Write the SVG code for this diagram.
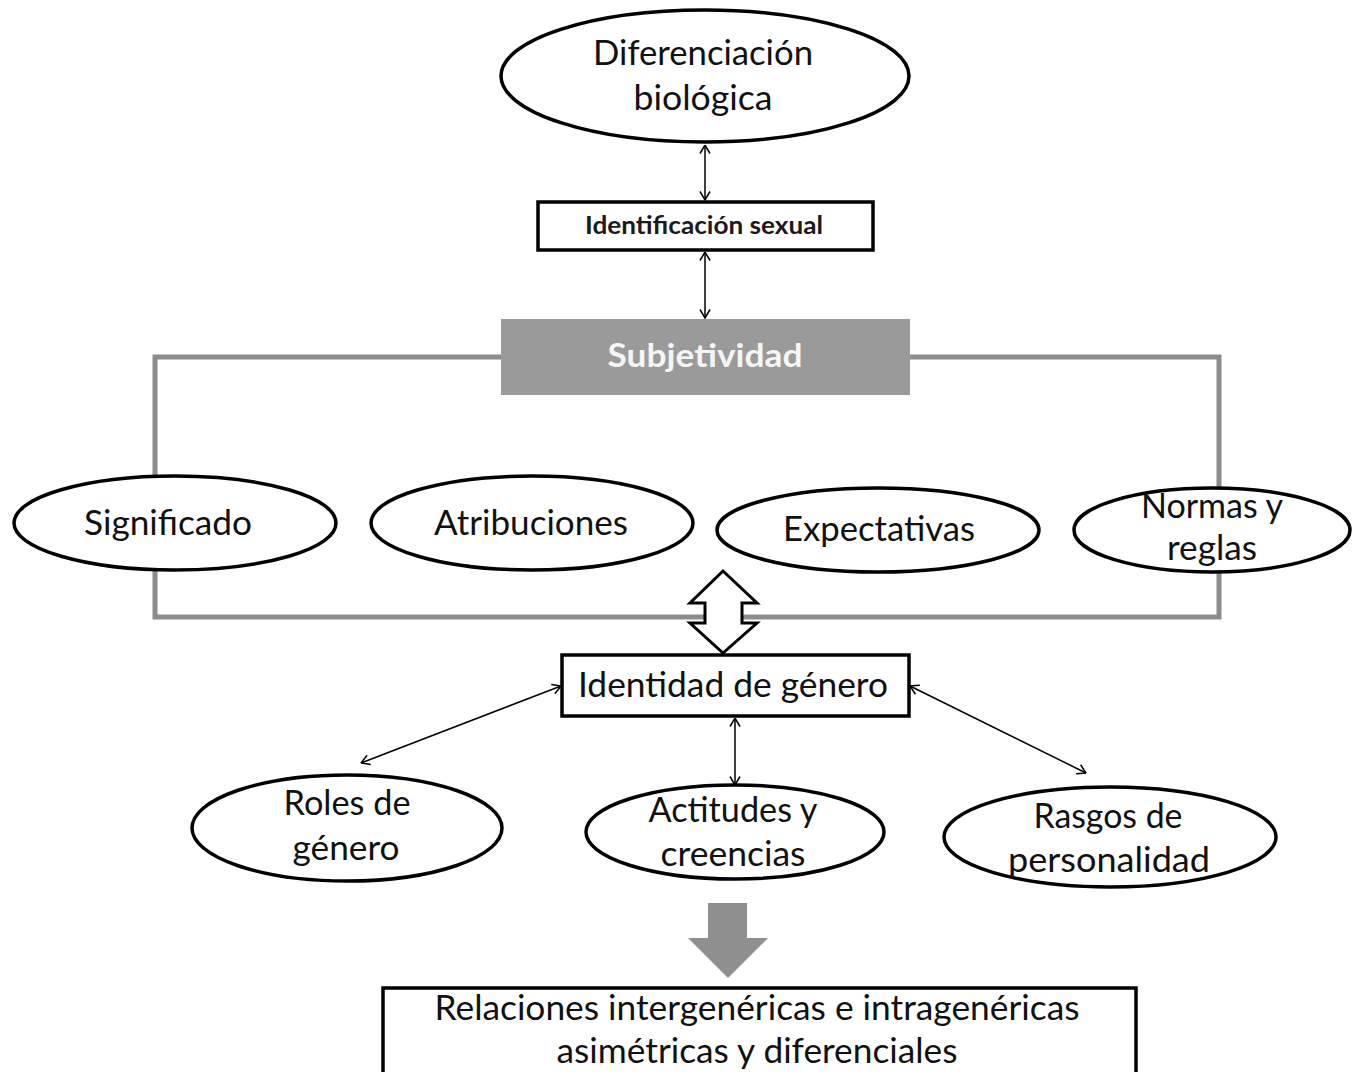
<svg xmlns="http://www.w3.org/2000/svg" width="1355" height="1072" viewBox="0 0 1355 1072">
<defs>
<style>
.node{fill:#fff;stroke:#000;stroke-width:3.5}
.box{fill:#fff;stroke:#000;stroke-width:3.5}
.t{font-family:Lato,"Open Sans","Liberation Sans",sans-serif;font-size:34px;fill:#111;text-anchor:middle}
.conn{stroke:#000;stroke-width:1.5;fill:none;marker-start:url(#ah);marker-end:url(#ah)}
.frame{fill:none;stroke:#8c8c8c;stroke-width:5}
</style>
<marker id="ah" viewBox="0 0 10 12" refX="9.5" refY="6" markerWidth="10" markerHeight="12" markerUnits="userSpaceOnUse" orient="auto-start-reverse">
<path d="M1,1 L9.5,6 L1,11" fill="none" stroke="#000" stroke-width="1.5"/>
</marker>
</defs>
<rect width="1355" height="1072" fill="#fff"/>

<g id="frame">
<polyline class="frame" points="501,357 155,357 155,617 1219,617 1219,357 910,357"/>
</g>

<g id="connectors">
<line class="conn" x1="705" y1="145" x2="705" y2="200"/>
<line class="conn" x1="705" y1="252" x2="705" y2="318"/>
<line class="conn" x1="561" y1="686" x2="361" y2="763"/>
<line class="conn" x1="735" y1="718" x2="735" y2="785"/>
<line class="conn" x1="910" y1="686" x2="1086" y2="773"/>
<polygon id="double-arrow" points="723,571 757,603 742,603 742,623 757,623 723,653 690,623 705,623 705,603 690,603" fill="#fff" stroke="#000" stroke-width="3" stroke-linejoin="miter"/>
<polygon id="down-arrow" points="708,903 747,903 747,938 768,938 728,978 688,938 708,938" fill="#8f8f8f"/>
</g>

<g id="diferenciacion">
<ellipse class="node" cx="705" cy="76" rx="204" ry="66"/>
<text class="t" x="703" y="65" textLength="220" lengthAdjust="spacingAndGlyphs">Diferenciación</text>
<text class="t" x="703" y="110" textLength="139" lengthAdjust="spacingAndGlyphs">biológica</text>
</g>

<g id="identificacion">
<rect class="box" x="538" y="202" width="335" height="48"/>
<text class="t" x="704" y="234" style="font-size:25px;font-weight:bold;fill:#1a1a1a" textLength="238" lengthAdjust="spacingAndGlyphs">Identificación sexual</text>
</g>

<g id="subjetividad">
<rect x="501" y="319" width="409" height="76" fill="#9a9a9a"/>
<text class="t" x="705" y="367" style="font-size:33px;font-weight:bold;fill:#f5f5f5" textLength="195" lengthAdjust="spacingAndGlyphs">Subjetividad</text>
</g>

<g id="significado">
<ellipse class="node" cx="175" cy="523" rx="161" ry="47"/>
<text class="t" x="168" y="535" textLength="168" lengthAdjust="spacingAndGlyphs">Significado</text>
</g>

<g id="atribuciones">
<ellipse class="node" cx="532" cy="523" rx="161" ry="47"/>
<text class="t" x="531" y="535" textLength="194" lengthAdjust="spacingAndGlyphs">Atribuciones</text>
</g>

<g id="expectativas">
<ellipse class="node" cx="878" cy="530" rx="161" ry="42"/>
<text class="t" x="879" y="541" textLength="192" lengthAdjust="spacingAndGlyphs">Expectativas</text>
</g>

<g id="normas">
<ellipse class="node" cx="1212" cy="530" rx="138" ry="42"/>
<text class="t" x="1212" y="518" textLength="142" lengthAdjust="spacingAndGlyphs">Normas y</text>
<text class="t" x="1212" y="560" textLength="90" lengthAdjust="spacingAndGlyphs">reglas</text>
</g>

<g id="identidad">
<rect class="box" x="562" y="655" width="347" height="61"/>
<text class="t" x="733" y="697" textLength="310" lengthAdjust="spacingAndGlyphs">Identidad de género</text>
</g>

<g id="roles">
<ellipse class="node" cx="347" cy="828" rx="155" ry="53"/>
<text class="t" x="347" y="815" textLength="127" lengthAdjust="spacingAndGlyphs">Roles de</text>
<text class="t" x="346" y="860" textLength="107" lengthAdjust="spacingAndGlyphs">género</text>
</g>

<g id="actitudes">
<ellipse class="node" cx="735" cy="832" rx="149" ry="47"/>
<text class="t" x="733" y="822" textLength="169" lengthAdjust="spacingAndGlyphs">Actitudes y</text>
<text class="t" x="733" y="866" textLength="145" lengthAdjust="spacingAndGlyphs">creencias</text>
</g>

<g id="rasgos">
<ellipse class="node" cx="1110" cy="837" rx="166" ry="50"/>
<text class="t" x="1108" y="828" textLength="149" lengthAdjust="spacingAndGlyphs">Rasgos de</text>
<text class="t" x="1109" y="872" textLength="202" lengthAdjust="spacingAndGlyphs">personalidad</text>
</g>

<g id="relaciones">
<rect class="box" x="383" y="988" width="753" height="95"/>
<text class="t" x="757" y="1020" textLength="645" lengthAdjust="spacingAndGlyphs">Relaciones intergenéricas e intragenéricas</text>
<text class="t" x="757" y="1063" textLength="401" lengthAdjust="spacingAndGlyphs">asimétricas y diferenciales</text>
</g>
</svg>
